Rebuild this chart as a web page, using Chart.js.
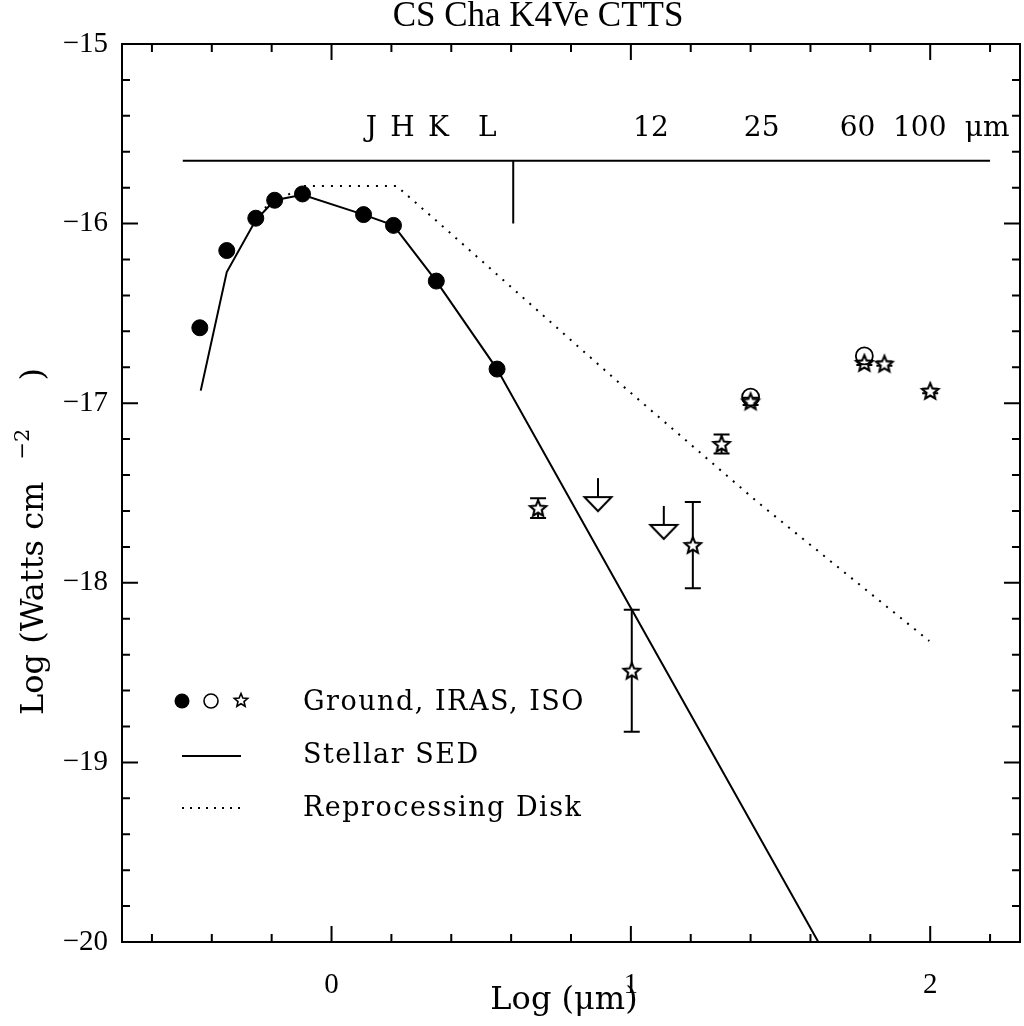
<!DOCTYPE html>
<html>
<head>
<meta charset="utf-8">
<script src="https://cdn.jsdelivr.net/npm/chart.js@4.4.1/dist/chart.umd.min.js"></script>
<style>
  html, body { margin:0; padding:0; background:#fff; }
  #wrap { width:1024px; height:1026px; }
</style>
</head>
<body>
<div id="wrap"><canvas id="sed" width="1024" height="1026"></canvas></div>
<script>
// photometry (log micron, log W cm^-2)
const groundX = [-0.44, -0.35, -0.253, -0.19, -0.097, 0.107, 0.207, 0.35, 0.553];
const groundY = [-16.58, -16.15, -15.97, -15.87, -15.835, -15.95, -16.01, -16.32, -16.81];
const irasX = [1.40, 1.78];
const irasY = [-16.966, -16.737];
const isoX = [0.69, 1.003, 1.207, 1.303, 1.40, 1.78, 1.847, 2.0];
const isoY = [-17.584, -18.49, -17.79, -17.227, -16.99, -16.776, -16.78, -16.932];
const isoErr = [0.055, 0.34, 0.24, 0.053, 0.02, 0.012, 0.012, 0.012];
const limitX = [0.89, 1.11];
const limitY = [-17.417, -17.572];

// model curves
const stellarX = [-0.437, -0.35, -0.253, -0.19, -0.097, 0.107, 0.207, 0.35, 0.553, 1.0, 2.0];
const stellarY = [-16.93, -16.27, -15.98, -15.87, -15.84, -15.95, -16.01, -16.32, -16.81, -18.14, -21.11];
const diskX = [-0.223, -0.093, 0.217, 0.393, 0.95, 1.427, 1.997];
const diskY = [-15.913, -15.79, -15.79, -16.047, -16.871, -17.556, -18.324];

// band labels along the top
const bandNames = ["J", "H", "K", "L", "12", "25", "60", "100", "\u03bcm"];
const bandPos = [0.133, 0.237, 0.357, 0.52, 1.067, 1.437, 1.757, 1.965, 2.19];
const bandLineY = -15.65;
const bandLineX = [-0.497, 2.2];
const bandTickX = 0.607;
const bandTickEnd = -16.0;
const bandLabelY = -15.47;

const xTicks = [0, 1, 2];
const yTicks = [-15, -16, -17, -18, -19, -20];

const pts = (xs, ys) => xs.map((v, i) => ({ x: v, y: ys[i] }));
const serif = "'DejaVu Serif', 'Liberation Serif', serif";
const tickFont = "'Liberation Serif', serif";

function starGlyph(R, lw){
  const size = Math.ceil(2 * R + 2 * lw + 2);
  const c = document.createElement("canvas");
  c.width = c.height = size;
  const g = c.getContext("2d");
  g.translate(size / 2, size / 2 + R * 0.08);
  g.beginPath();
  for(let i = 0; i < 10; i++){
    const r = i % 2 ? R * 0.45 : R;
    const a = -Math.PI / 2 + i * Math.PI / 5;
    g[i ? "lineTo" : "moveTo"](r * Math.cos(a), r * Math.sin(a));
  }
  g.closePath();
  g.fillStyle = "#fff";
  g.fill();
  g.lineWidth = lw;
  g.lineJoin = "miter";
  g.strokeStyle = "#000";
  g.stroke();
  return c;
}

function arrowGlyph(){
  const w = 32, h = 74;
  const c = document.createElement("canvas");
  c.width = w; c.height = h;
  const g = c.getContext("2d");
  const cx = w / 2, cy = h / 2;
  g.strokeStyle = "#000";
  g.lineWidth = 2;
  g.beginPath();
  g.moveTo(cx, cy); g.lineTo(cx, cy + 19);
  g.stroke();
  g.beginPath();
  g.moveTo(cx - 13.5, cy + 19);
  g.lineTo(cx + 13.5, cy + 19);
  g.lineTo(cx, cy + 33);
  g.closePath();
  g.fillStyle = "#fff";
  g.fill();
  g.stroke();
  return c;
}

const starImg = starGlyph(8.5, 2.1);
const arrowImg = arrowGlyph();

// error bars, frame with inward ticks, band scale, legend, titles
const decor = {
  id: "decor",
  beforeDatasetsDraw(chart){
    const { ctx, scales: { x, y } } = chart;
    ctx.save();
    ctx.strokeStyle = "#000";
    ctx.lineWidth = 2;
    ctx.beginPath();
    isoX.forEach((v, i) => {
      const px = x.getPixelForValue(v);
      const top = y.getPixelForValue(isoY[i] + isoErr[i]);
      const bot = y.getPixelForValue(isoY[i] - isoErr[i]);
      ctx.moveTo(px, top); ctx.lineTo(px, bot);
      ctx.moveTo(px - 8, top); ctx.lineTo(px + 8, top);
      ctx.moveTo(px - 8, bot); ctx.lineTo(px + 8, bot);
    });
    ctx.stroke();
    ctx.restore();
  },
  afterDraw(chart){
    const { ctx, chartArea: a, scales: { x, y } } = chart;
    ctx.save();
    ctx.strokeStyle = "#000";
    ctx.fillStyle = "#000";
    ctx.lineWidth = 2;
    ctx.strokeRect(a.left, a.top, a.right - a.left, a.bottom - a.top);

    ctx.beginPath();
    for(let k = -3; k <= 11; k++){
      const px = x.getPixelForValue(k * 0.2);
      const len = k % 5 === 0 ? 16 : 8;
      ctx.moveTo(px, a.bottom); ctx.lineTo(px, a.bottom - len);
      ctx.moveTo(px, a.top); ctx.lineTo(px, a.top + len);
    }
    for(let k = 0; k <= 25; k++){
      const py = y.getPixelForValue(-15 - k * 0.2);
      const len = k % 5 === 0 ? 16 : 8;
      ctx.moveTo(a.left, py); ctx.lineTo(a.left + len, py);
      ctx.moveTo(a.right, py); ctx.lineTo(a.right - len, py);
    }
    ctx.stroke();

    // band scale
    ctx.beginPath();
    const by = y.getPixelForValue(bandLineY);
    ctx.moveTo(x.getPixelForValue(bandLineX[0]), by);
    ctx.lineTo(x.getPixelForValue(bandLineX[1]), by);
    const tx = x.getPixelForValue(bandTickX);
    ctx.moveTo(tx, by);
    ctx.lineTo(tx, y.getPixelForValue(bandTickEnd));
    ctx.stroke();
    ctx.font = "28px " + serif;
    ctx.textAlign = "center";
    ctx.textBaseline = "middle";
    bandNames.forEach((t, i) => {
      ctx.fillText(t, x.getPixelForValue(bandPos[i]), y.getPixelForValue(bandLabelY));
    });

    // legend
    const lx = a.left, ly = a.top;
    ctx.beginPath();
    ctx.arc(lx + 60, ly + 657, 7.5, 0, Math.PI * 2);
    ctx.fill();
    ctx.beginPath();
    ctx.lineWidth = 1.6;
    ctx.arc(lx + 89, ly + 657, 7, 0, Math.PI * 2);
    ctx.stroke();
    const s = starGlyph(7, 1.6);
    ctx.drawImage(s, lx + 119 - s.width / 2, ly + 656 - s.height / 2);
    ctx.lineWidth = 2;
    ctx.beginPath();
    ctx.moveTo(lx + 60, ly + 712); ctx.lineTo(lx + 119, ly + 712);
    ctx.stroke();
    ctx.setLineDash([2, 6]);
    ctx.beginPath();
    ctx.moveTo(lx + 60, ly + 764); ctx.lineTo(lx + 119, ly + 764);
    ctx.stroke();
    ctx.setLineDash([]);
    ctx.textAlign = "left";
    ctx.textBaseline = "alphabetic";
    ctx.font = "27px " + serif;
    ctx.letterSpacing = "1.5px";
    ctx.fillText("Ground, IRAS, ISO", lx + 181, ly + 666);
    ctx.fillText("Stellar SED", lx + 181, ly + 719);
    ctx.fillText("Reprocessing Disk", lx + 181, ly + 772);

    // y axis title with a real superscript
    ctx.save();
    ctx.translate(43, 715);
    ctx.rotate(-Math.PI / 2);
    ctx.font = "32px " + serif;
    ctx.letterSpacing = "0px";
    const main = "Log (Watts cm";
    ctx.fillText(main, 0, 0);
    let w = ctx.measureText(main).width + 22;
    ctx.font = "21px " + serif;
    ctx.fillText("\u22122", w, -14);
    w += ctx.measureText("\u22122").width + 48;
    ctx.font = "32px " + serif;
    ctx.fillText(")", w, 0);
    ctx.restore();

    // title
    ctx.letterSpacing = "0px";
    ctx.font = "35px " + tickFont;
    ctx.textAlign = "center";
    ctx.textBaseline = "middle";
    ctx.fillText("CS Cha K4Ve CTTS", 538, 17);

    // x axis title, centred as in the original
    ctx.font = "32px " + serif;
    ctx.fillText("Log (\u03bcm)", 564, 1001);
    ctx.restore();
  }
};

function initChart(){
  const ctx = document.getElementById("sed");
  new Chart(ctx, {
    type: "scatter",
    data: {
      datasets: [
        { label: "Stellar SED", data: pts(stellarX, stellarY), showLine: true,
          borderColor: "#000", borderWidth: 2, pointRadius: 0, tension: 0 },
        { label: "Reprocessing Disk", data: pts(diskX, diskY), showLine: true,
          borderColor: "#000", borderWidth: 2, borderDash: [2, 7], pointRadius: 0, tension: 0 },
        { label: "Ground", data: pts(groundX, groundY), pointStyle: "circle",
          pointRadius: 8, backgroundColor: "#000", borderColor: "#000", borderWidth: 1 },
        { label: "IRAS", data: pts(irasX, irasY), pointStyle: "circle",
          pointRadius: 8.5, backgroundColor: "rgba(0,0,0,0)", borderColor: "#000", borderWidth: 1.8 },
        { label: "ISO", data: pts(isoX, isoY), pointStyle: starImg, pointRadius: 8 },
        { label: "Upper limit", data: pts(limitX, limitY), pointStyle: arrowImg, pointRadius: 10 }
      ]
    },
    options: {
      responsive: false,
      animation: false,
      devicePixelRatio: 1,
      layout: { autoPadding: false, padding: { top: 44, right: 4, left: 0, bottom: 0 } },
      plugins: { legend: { display: false }, tooltip: { enabled: false }, title: { display: false } },
      scales: {
        x: {
          type: "linear", min: -0.7, max: 2.3,
          grid: { display: false, drawTicks: false },
          border: { display: false },
          afterBuildTicks: s => { s.ticks = xTicks.map(v => ({ value: v })); },
          afterFit: s => { s.height = 84; s.paddingLeft = 0; s.paddingRight = 0; },
          ticks: { color: "#000", padding: 26, font: { family: tickFont, size: 29 },
                   callback: v => String(v) },
          title: { display: false }
        },
        y: {
          type: "linear", min: -20, max: -15,
          grid: { display: false, drawTicks: false },
          border: { display: false },
          afterBuildTicks: s => { s.ticks = yTicks.map(v => ({ value: v })); },
          afterFit: s => { s.width = 122; s.paddingTop = 0; s.paddingBottom = 0; },
          ticks: { color: "#000", padding: 14, font: { family: tickFont, size: 29 },
                   callback: v => String(v).replace("-", "\u2212") },
          title: { display: false }
        }
      }
    },
    plugins: [decor]
  });
}

document.addEventListener("DOMContentLoaded", initChart);
</script>
</body>
</html>
